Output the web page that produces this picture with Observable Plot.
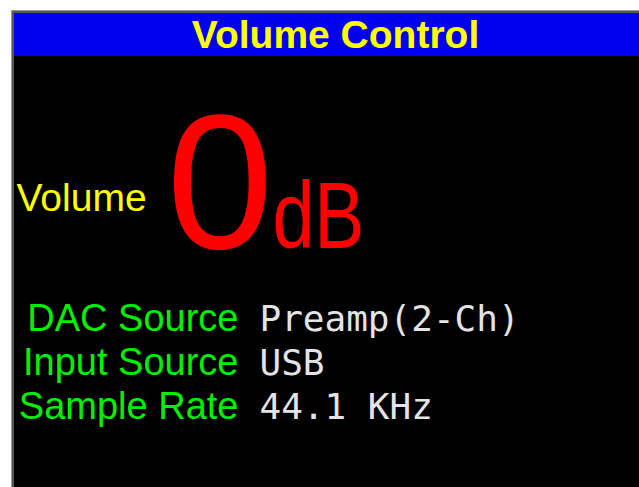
<!DOCTYPE html>
<html>
<head>
<meta charset="utf-8">
<script src="https://cdn.jsdelivr.net/npm/d3@7"></script>
<script src="https://cdn.jsdelivr.net/npm/@observablehq/plot@0.6"></script>
<style>
  html, body { margin: 0; padding: 0; background: #ffffff; }
</style>
</head>
<body>
<div id="chart"></div>
<script>
// ---- content ----
const title = ["Volume Control"];
const volumeLabel = ["Volume"];
const volumeValue = ["0"];
const volumeUnit = ["dB"];
const fieldLabels = ["DAC Source", "Input Source", "Sample Rate"];
const fieldValues = ["Preamp(2-Ch)", "USB", "44.1 KHz"];

const W = 639, H = 487;
const rows = fieldLabels.map((label, i) => ({label, value: fieldValues[i], row: i}));
const rowY = d => 330 + d.row * 44;

const chart = Plot.plot({
  width: W,
  height: H,
  margin: 0,
  x: {domain: [0, W], axis: null},
  y: {domain: [0, H], range: [0, H], axis: null},
  style: {background: "#ffffff"},
  marks: [
    // panel border and background
    Plot.rect([0], {x1: () => 11, x2: () => W, y1: () => 10, y2: () => H, fill: "#9a9a9a"}),
    Plot.rect([0], {x1: () => 12, x2: () => W, y1: () => 11, y2: () => H, fill: "#555555"}),
    Plot.rect([0], {x1: () => 14, x2: () => W, y1: () => 13, y2: () => H, fill: "#000000"}),
    Plot.rect([0], {x1: () => 14, x2: () => W, y1: () => 13, y2: () => 56, fill: "#0000ee"}),
    // title
    Plot.text(title, {x: () => 335, y: () => 47, text: d => d, fill: "#ffff00",
      fontSize: 39, fontWeight: "bold", fontFamily: "Liberation Sans", textAnchor: "middle", lineAnchor: "bottom"}),
    // volume
    Plot.text(volumeLabel, {x: () => 16, y: () => 210, text: d => d, fill: "#ffff00",
      fontSize: 39, fontFamily: "Liberation Sans", textAnchor: "start", lineAnchor: "bottom"}),
    Plot.text(volumeValue, {x: () => 166, y: () => 247, text: d => d, fill: "#ff0000",
      fontSize: 192, fontFamily: "Liberation Sans", textAnchor: "start", lineAnchor: "bottom"}),
    Plot.text(volumeUnit, {x: () => 272, y: () => 247, text: d => d, fill: "#ff0000",
      fontSize: 94, fontFamily: "Liberation Sans", textAnchor: "start", lineAnchor: "bottom"}),
    // fields
    Plot.text(rows, {x: () => 238, y: rowY, text: "label", fill: "#00f000",
      fontSize: 38, fontFamily: "Liberation Sans", textAnchor: "end", lineAnchor: "bottom"}),
    Plot.text(rows, {x: () => 259, y: rowY, text: "value", fill: "#e4e4e4",
      fontSize: 36, fontFamily: "DejaVu Sans Mono", textAnchor: "start", lineAnchor: "bottom"})
  ]
});

// narrow the "dB" glyphs like the reference's condensed bitmap font
d3.select(chart).selectAll("text").filter(function () { return this.textContent === "dB"; })
  .each(function () {
    const t = this.getAttribute("transform") || "";
    this.setAttribute("transform", t + " scale(0.8,1)");
  });

document.getElementById("chart").appendChild(chart);
</script>
</body>
</html>
